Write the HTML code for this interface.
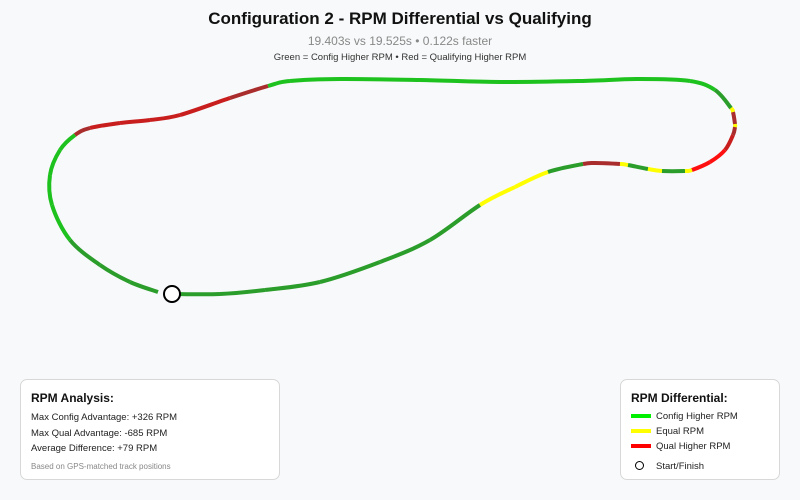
<!DOCTYPE html>
<html><head><meta charset="utf-8"><style>
body{margin:0;background:#f8f9fa;font-family:"Liberation Sans",Arial,sans-serif;}
#wrap{position:relative;width:800px;height:500px;overflow:hidden;}
.box{position:absolute;background:#fff;border:1px solid #d8d8d8;border-radius:7px;box-sizing:border-box;}
</style></head><body>
<div id="wrap">
<svg id="svg" width="800" height="500" style="position:absolute;left:0;top:0">
<text x="400" y="24" text-anchor="middle" font-size="17" font-weight="bold" fill="#111">Configuration 2 - RPM Differential vs Qualifying</text>
<text x="400" y="45" text-anchor="middle" font-size="12" fill="#888">19.403s vs 19.525s • 0.122s faster</text>
<text x="400" y="60" text-anchor="middle" font-size="9.5" fill="#333">Green = Config Higher RPM • Red = Qualifying Higher RPM</text>
<g id="track"></g>
<circle cx="172" cy="294" r="8" fill="#fff" stroke="#000" stroke-width="2"/>
</svg>
<div class="box" style="left:20px;top:379px;width:260px;height:101px">
<div style="position:absolute;left:10px;top:11px;font-size:12px;font-weight:bold;color:#111">RPM Analysis:</div>
<div style="position:absolute;left:10px;top:30px;font-size:9.5px;color:#222;line-height:15.5px">Max Config Advantage: +326 RPM<br>Max Qual Advantage: -685 RPM<br>Average Difference: +79 RPM</div>
<div style="position:absolute;left:10px;top:82px;font-size:8px;color:#888">Based on GPS-matched track positions</div>
</div>
<div class="box" style="left:620px;top:379px;width:160px;height:101px">
<div style="position:absolute;left:10px;top:11px;font-size:12px;font-weight:bold;color:#111">RPM Differential:</div>
<div style="position:absolute;left:10px;top:34px;width:20px;height:4px;background:#00ee00"></div>
<div style="position:absolute;left:35px;top:31px;font-size:9.5px;color:#222">Config Higher RPM</div>
<div style="position:absolute;left:10px;top:49px;width:20px;height:4px;background:#ffff00"></div>
<div style="position:absolute;left:35px;top:46px;font-size:9.5px;color:#222">Equal RPM</div>
<div style="position:absolute;left:10px;top:64px;width:20px;height:4px;background:#ff0000"></div>
<div style="position:absolute;left:35px;top:61px;font-size:9.5px;color:#222">Qual Higher RPM</div>
<div style="position:absolute;left:14px;top:81px;width:7px;height:7px;border:1.5px solid #000;border-radius:50%"></div>
<div style="position:absolute;left:35px;top:81px;font-size:9.5px;color:#222">Start/Finish</div>
</div>
</div>
<script>
const trackX=[172,220,265,320,380,430,480,515,548,583,595,620,628,648,662,685,692,710,725,733,735,735,733,731,715,690,640,580,500,420,340,290,268,230,180,150,120,90,75,60,50,52,70,100,130,158];
const trackY=[294,294,290,282,262,240,205,187,172,164,163,164,165,169,171,171,170,162,150,135,127,124,112,108,90,81,79,81,82,80,79,81,86,98,115,120,123,128,135,150,175,205,240,265,282,292];
const rpmDiff=[90,90,90,90,90,90,0,5,80,-200,-200,0,80,0,90,0,-500,-450,-300,-250,0,-250,0,90,200,200,200,200,200,200,200,200,-250,-300,-350,-350,-350,-250,200,200,150,150,90,90,90];
function colorFor(v){
  if(Math.abs(v)<30) return '#ffff00';
  if(v>=150) return '#1ec21e';
  if(v>0) return '#2a9d2a';
  if(v<=-400) return '#ff1010';
  if(v<=-300) return '#c81e1e';
  return '#aa2d2d';
}
const g=document.getElementById('track');
const n=trackX.length;
function P(i){i=Math.max(0,Math.min(n-1,i));return [trackX[i],trackY[i]];}
for(let i=0;i<rpmDiff.length;i++){
  const p0=P(i-1),p1=P(i),p2=P(i+1),p3=P(i+2);
  const c1=[p1[0]+(p2[0]-p0[0])/6,p1[1]+(p2[1]-p0[1])/6];
  const c2=[p2[0]-(p3[0]-p1[0])/6,p2[1]-(p3[1]-p1[1])/6];
  const l=document.createElementNS('http://www.w3.org/2000/svg','path');
  l.setAttribute('d','M'+p1[0]+','+p1[1]+' C'+c1[0]+','+c1[1]+' '+c2[0]+','+c2[1]+' '+p2[0]+','+p2[1]);
  l.setAttribute('fill','none');
  l.setAttribute('stroke',colorFor(rpmDiff[i]));
  l.setAttribute('stroke-width','4');
  l.setAttribute('stroke-linecap','butt');
  
  
  g.appendChild(l);
}
</script>
</body></html>
